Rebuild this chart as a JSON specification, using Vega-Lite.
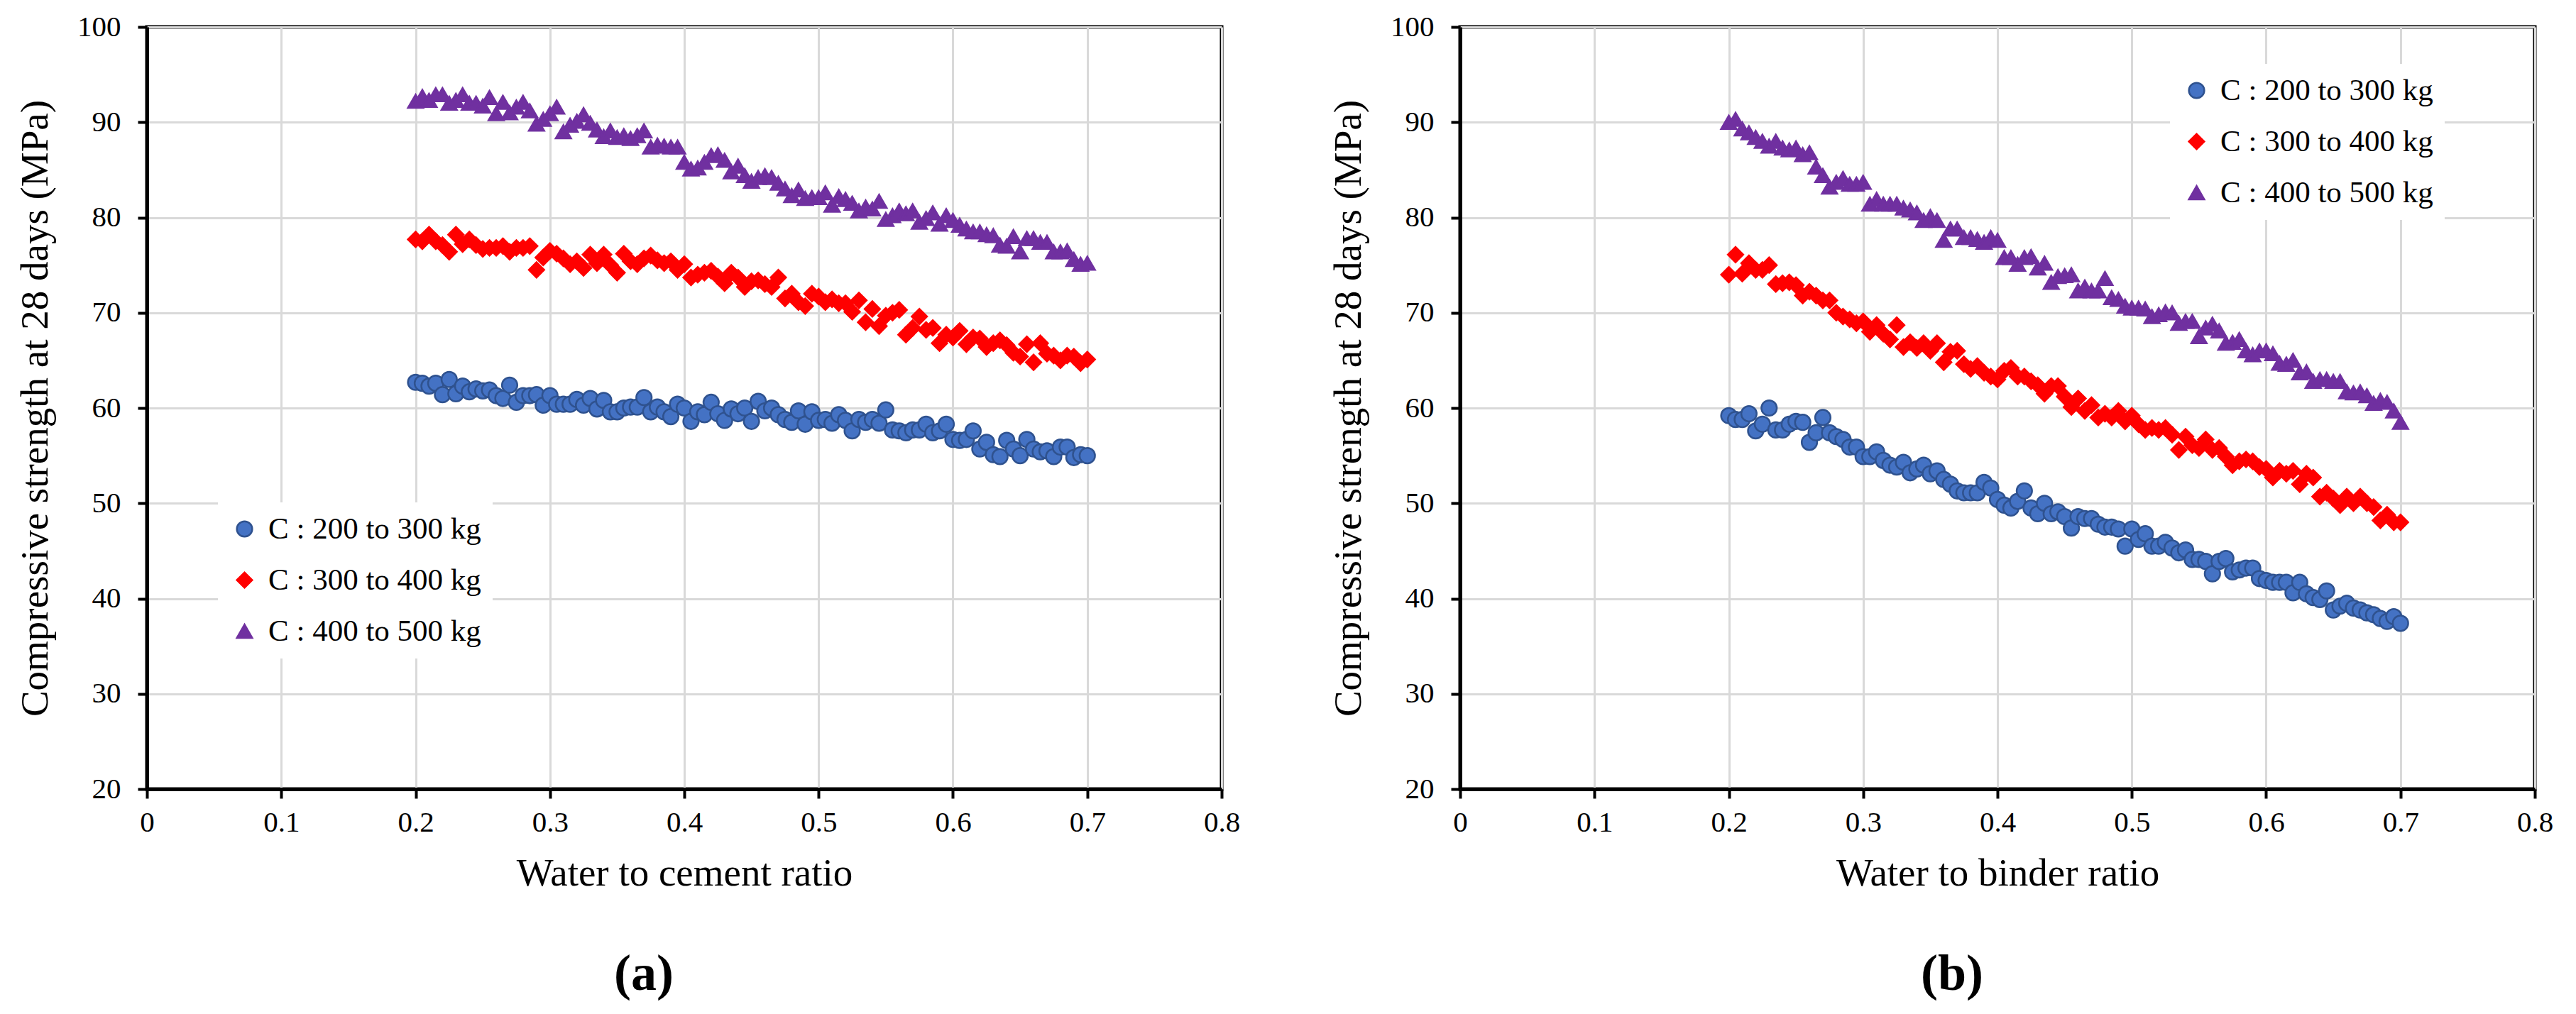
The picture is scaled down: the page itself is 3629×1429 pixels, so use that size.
{
  "$schema": "https://vega.github.io/schema/vega-lite/v6.json",
  "description": "Compressive strength at 28 days against water to cement / water to binder ratio",
  "background": "white",
  "autosize": {"type": "pad"},
  "padding": {"left": 20, "top": 14, "right": 20, "bottom": 20},
  "spacing": 336,
  "bounds": "flush",
  "datasets": {
    "wc": [
      {"ratio":0.2,"strength":62.7,"cement":"C : 200 to 300 kg"},{"ratio":0.205,"strength":62.6,"cement":"C : 200 to 300 kg"},{"ratio":0.21,"strength":62.3,"cement":"C : 200 to 300 kg"},{"ratio":0.215,"strength":62.6,"cement":"C : 200 to 300 kg"},{"ratio":0.22,"strength":61.4,"cement":"C : 200 to 300 kg"},{"ratio":0.225,"strength":63.0,"cement":"C : 200 to 300 kg"},{"ratio":0.23,"strength":61.5,"cement":"C : 200 to 300 kg"},{"ratio":0.235,"strength":62.3,"cement":"C : 200 to 300 kg"},{"ratio":0.24,"strength":61.7,"cement":"C : 200 to 300 kg"},{"ratio":0.245,"strength":62.0,"cement":"C : 200 to 300 kg"},
      {"ratio":0.25,"strength":61.8,"cement":"C : 200 to 300 kg"},{"ratio":0.255,"strength":61.9,"cement":"C : 200 to 300 kg"},{"ratio":0.26,"strength":61.3,"cement":"C : 200 to 300 kg"},{"ratio":0.265,"strength":61.0,"cement":"C : 200 to 300 kg"},{"ratio":0.27,"strength":62.4,"cement":"C : 200 to 300 kg"},{"ratio":0.275,"strength":60.6,"cement":"C : 200 to 300 kg"},{"ratio":0.28,"strength":61.3,"cement":"C : 200 to 300 kg"},{"ratio":0.285,"strength":61.3,"cement":"C : 200 to 300 kg"},{"ratio":0.29,"strength":61.4,"cement":"C : 200 to 300 kg"},{"ratio":0.295,"strength":60.3,"cement":"C : 200 to 300 kg"},
      {"ratio":0.3,"strength":61.3,"cement":"C : 200 to 300 kg"},{"ratio":0.305,"strength":60.4,"cement":"C : 200 to 300 kg"},{"ratio":0.31,"strength":60.4,"cement":"C : 200 to 300 kg"},{"ratio":0.315,"strength":60.4,"cement":"C : 200 to 300 kg"},{"ratio":0.32,"strength":60.9,"cement":"C : 200 to 300 kg"},{"ratio":0.325,"strength":60.3,"cement":"C : 200 to 300 kg"},{"ratio":0.33,"strength":61.0,"cement":"C : 200 to 300 kg"},{"ratio":0.335,"strength":59.9,"cement":"C : 200 to 300 kg"},{"ratio":0.34,"strength":60.8,"cement":"C : 200 to 300 kg"},{"ratio":0.345,"strength":59.6,"cement":"C : 200 to 300 kg"},
      {"ratio":0.35,"strength":59.6,"cement":"C : 200 to 300 kg"},{"ratio":0.355,"strength":60.0,"cement":"C : 200 to 300 kg"},{"ratio":0.36,"strength":60.1,"cement":"C : 200 to 300 kg"},{"ratio":0.365,"strength":60.1,"cement":"C : 200 to 300 kg"},{"ratio":0.37,"strength":61.1,"cement":"C : 200 to 300 kg"},{"ratio":0.375,"strength":59.6,"cement":"C : 200 to 300 kg"},{"ratio":0.38,"strength":60.1,"cement":"C : 200 to 300 kg"},{"ratio":0.385,"strength":59.6,"cement":"C : 200 to 300 kg"},{"ratio":0.39,"strength":59.1,"cement":"C : 200 to 300 kg"},{"ratio":0.395,"strength":60.4,"cement":"C : 200 to 300 kg"},
      {"ratio":0.4,"strength":60.0,"cement":"C : 200 to 300 kg"},{"ratio":0.405,"strength":58.6,"cement":"C : 200 to 300 kg"},{"ratio":0.41,"strength":59.6,"cement":"C : 200 to 300 kg"},{"ratio":0.415,"strength":59.3,"cement":"C : 200 to 300 kg"},{"ratio":0.42,"strength":60.6,"cement":"C : 200 to 300 kg"},{"ratio":0.425,"strength":59.4,"cement":"C : 200 to 300 kg"},{"ratio":0.43,"strength":58.7,"cement":"C : 200 to 300 kg"},{"ratio":0.435,"strength":59.9,"cement":"C : 200 to 300 kg"},{"ratio":0.44,"strength":59.4,"cement":"C : 200 to 300 kg"},{"ratio":0.445,"strength":60.0,"cement":"C : 200 to 300 kg"},
      {"ratio":0.45,"strength":58.6,"cement":"C : 200 to 300 kg"},{"ratio":0.455,"strength":60.7,"cement":"C : 200 to 300 kg"},{"ratio":0.46,"strength":59.7,"cement":"C : 200 to 300 kg"},{"ratio":0.465,"strength":60.0,"cement":"C : 200 to 300 kg"},{"ratio":0.47,"strength":59.3,"cement":"C : 200 to 300 kg"},{"ratio":0.475,"strength":58.8,"cement":"C : 200 to 300 kg"},{"ratio":0.48,"strength":58.5,"cement":"C : 200 to 300 kg"},{"ratio":0.485,"strength":59.7,"cement":"C : 200 to 300 kg"},{"ratio":0.49,"strength":58.3,"cement":"C : 200 to 300 kg"},{"ratio":0.495,"strength":59.6,"cement":"C : 200 to 300 kg"},
      {"ratio":0.5,"strength":58.7,"cement":"C : 200 to 300 kg"},{"ratio":0.505,"strength":58.8,"cement":"C : 200 to 300 kg"},{"ratio":0.51,"strength":58.4,"cement":"C : 200 to 300 kg"},{"ratio":0.515,"strength":59.3,"cement":"C : 200 to 300 kg"},{"ratio":0.52,"strength":58.7,"cement":"C : 200 to 300 kg"},{"ratio":0.525,"strength":57.6,"cement":"C : 200 to 300 kg"},{"ratio":0.53,"strength":58.8,"cement":"C : 200 to 300 kg"},{"ratio":0.535,"strength":58.5,"cement":"C : 200 to 300 kg"},{"ratio":0.54,"strength":58.8,"cement":"C : 200 to 300 kg"},{"ratio":0.545,"strength":58.4,"cement":"C : 200 to 300 kg"},
      {"ratio":0.55,"strength":59.8,"cement":"C : 200 to 300 kg"},{"ratio":0.555,"strength":57.7,"cement":"C : 200 to 300 kg"},{"ratio":0.56,"strength":57.6,"cement":"C : 200 to 300 kg"},{"ratio":0.565,"strength":57.4,"cement":"C : 200 to 300 kg"},{"ratio":0.57,"strength":57.7,"cement":"C : 200 to 300 kg"},{"ratio":0.575,"strength":57.7,"cement":"C : 200 to 300 kg"},{"ratio":0.58,"strength":58.3,"cement":"C : 200 to 300 kg"},{"ratio":0.585,"strength":57.4,"cement":"C : 200 to 300 kg"},{"ratio":0.59,"strength":57.6,"cement":"C : 200 to 300 kg"},{"ratio":0.595,"strength":58.3,"cement":"C : 200 to 300 kg"},
      {"ratio":0.6,"strength":56.7,"cement":"C : 200 to 300 kg"},{"ratio":0.605,"strength":56.6,"cement":"C : 200 to 300 kg"},{"ratio":0.61,"strength":56.7,"cement":"C : 200 to 300 kg"},{"ratio":0.615,"strength":57.6,"cement":"C : 200 to 300 kg"},{"ratio":0.62,"strength":55.7,"cement":"C : 200 to 300 kg"},{"ratio":0.625,"strength":56.4,"cement":"C : 200 to 300 kg"},{"ratio":0.63,"strength":55.1,"cement":"C : 200 to 300 kg"},{"ratio":0.635,"strength":54.9,"cement":"C : 200 to 300 kg"},{"ratio":0.64,"strength":56.6,"cement":"C : 200 to 300 kg"},{"ratio":0.645,"strength":55.7,"cement":"C : 200 to 300 kg"},
      {"ratio":0.65,"strength":55.0,"cement":"C : 200 to 300 kg"},{"ratio":0.655,"strength":56.7,"cement":"C : 200 to 300 kg"},{"ratio":0.66,"strength":55.7,"cement":"C : 200 to 300 kg"},{"ratio":0.665,"strength":55.4,"cement":"C : 200 to 300 kg"},{"ratio":0.67,"strength":55.5,"cement":"C : 200 to 300 kg"},{"ratio":0.675,"strength":54.9,"cement":"C : 200 to 300 kg"},{"ratio":0.68,"strength":55.9,"cement":"C : 200 to 300 kg"},{"ratio":0.685,"strength":55.9,"cement":"C : 200 to 300 kg"},{"ratio":0.69,"strength":54.8,"cement":"C : 200 to 300 kg"},{"ratio":0.695,"strength":55.1,"cement":"C : 200 to 300 kg"},
      {"ratio":0.7,"strength":55.0,"cement":"C : 200 to 300 kg"},

      {"ratio":0.2,"strength":77.7,"cement":"C : 300 to 400 kg"},{"ratio":0.205,"strength":77.5,"cement":"C : 300 to 400 kg"},{"ratio":0.21,"strength":78.2,"cement":"C : 300 to 400 kg"},{"ratio":0.215,"strength":77.5,"cement":"C : 300 to 400 kg"},{"ratio":0.22,"strength":77.1,"cement":"C : 300 to 400 kg"},{"ratio":0.225,"strength":76.4,"cement":"C : 300 to 400 kg"},{"ratio":0.23,"strength":78.2,"cement":"C : 300 to 400 kg"},{"ratio":0.235,"strength":77.2,"cement":"C : 300 to 400 kg"},{"ratio":0.24,"strength":77.7,"cement":"C : 300 to 400 kg"},{"ratio":0.245,"strength":77.1,"cement":"C : 300 to 400 kg"},
      {"ratio":0.25,"strength":76.7,"cement":"C : 300 to 400 kg"},{"ratio":0.255,"strength":76.8,"cement":"C : 300 to 400 kg"},{"ratio":0.26,"strength":76.8,"cement":"C : 300 to 400 kg"},{"ratio":0.265,"strength":77.0,"cement":"C : 300 to 400 kg"},{"ratio":0.27,"strength":76.4,"cement":"C : 300 to 400 kg"},{"ratio":0.275,"strength":76.8,"cement":"C : 300 to 400 kg"},{"ratio":0.28,"strength":76.8,"cement":"C : 300 to 400 kg"},{"ratio":0.285,"strength":77.0,"cement":"C : 300 to 400 kg"},{"ratio":0.29,"strength":74.5,"cement":"C : 300 to 400 kg"},{"ratio":0.295,"strength":75.8,"cement":"C : 300 to 400 kg"},
      {"ratio":0.3,"strength":76.5,"cement":"C : 300 to 400 kg"},{"ratio":0.305,"strength":76.2,"cement":"C : 300 to 400 kg"},{"ratio":0.31,"strength":75.7,"cement":"C : 300 to 400 kg"},{"ratio":0.315,"strength":75.1,"cement":"C : 300 to 400 kg"},{"ratio":0.32,"strength":75.4,"cement":"C : 300 to 400 kg"},{"ratio":0.325,"strength":74.7,"cement":"C : 300 to 400 kg"},{"ratio":0.33,"strength":76.1,"cement":"C : 300 to 400 kg"},{"ratio":0.335,"strength":75.2,"cement":"C : 300 to 400 kg"},{"ratio":0.34,"strength":76.1,"cement":"C : 300 to 400 kg"},{"ratio":0.345,"strength":75.0,"cement":"C : 300 to 400 kg"},
      {"ratio":0.35,"strength":74.2,"cement":"C : 300 to 400 kg"},{"ratio":0.355,"strength":76.2,"cement":"C : 300 to 400 kg"},{"ratio":0.36,"strength":75.4,"cement":"C : 300 to 400 kg"},{"ratio":0.365,"strength":75.1,"cement":"C : 300 to 400 kg"},{"ratio":0.37,"strength":75.7,"cement":"C : 300 to 400 kg"},{"ratio":0.375,"strength":76.0,"cement":"C : 300 to 400 kg"},{"ratio":0.38,"strength":75.5,"cement":"C : 300 to 400 kg"},{"ratio":0.385,"strength":75.2,"cement":"C : 300 to 400 kg"},{"ratio":0.39,"strength":75.4,"cement":"C : 300 to 400 kg"},{"ratio":0.395,"strength":74.5,"cement":"C : 300 to 400 kg"},
      {"ratio":0.4,"strength":75.1,"cement":"C : 300 to 400 kg"},{"ratio":0.405,"strength":73.7,"cement":"C : 300 to 400 kg"},{"ratio":0.41,"strength":74.0,"cement":"C : 300 to 400 kg"},{"ratio":0.415,"strength":74.2,"cement":"C : 300 to 400 kg"},{"ratio":0.42,"strength":74.4,"cement":"C : 300 to 400 kg"},{"ratio":0.425,"strength":73.8,"cement":"C : 300 to 400 kg"},{"ratio":0.43,"strength":73.1,"cement":"C : 300 to 400 kg"},{"ratio":0.435,"strength":74.2,"cement":"C : 300 to 400 kg"},{"ratio":0.44,"strength":73.7,"cement":"C : 300 to 400 kg"},{"ratio":0.445,"strength":72.7,"cement":"C : 300 to 400 kg"},
      {"ratio":0.45,"strength":73.3,"cement":"C : 300 to 400 kg"},{"ratio":0.455,"strength":73.4,"cement":"C : 300 to 400 kg"},{"ratio":0.46,"strength":73.0,"cement":"C : 300 to 400 kg"},{"ratio":0.465,"strength":72.7,"cement":"C : 300 to 400 kg"},{"ratio":0.47,"strength":73.7,"cement":"C : 300 to 400 kg"},{"ratio":0.475,"strength":71.5,"cement":"C : 300 to 400 kg"},{"ratio":0.48,"strength":72.0,"cement":"C : 300 to 400 kg"},{"ratio":0.485,"strength":71.1,"cement":"C : 300 to 400 kg"},{"ratio":0.49,"strength":70.7,"cement":"C : 300 to 400 kg"},{"ratio":0.495,"strength":72.0,"cement":"C : 300 to 400 kg"},
      {"ratio":0.5,"strength":71.7,"cement":"C : 300 to 400 kg"},{"ratio":0.505,"strength":71.1,"cement":"C : 300 to 400 kg"},{"ratio":0.51,"strength":71.4,"cement":"C : 300 to 400 kg"},{"ratio":0.515,"strength":71.0,"cement":"C : 300 to 400 kg"},{"ratio":0.52,"strength":71.0,"cement":"C : 300 to 400 kg"},{"ratio":0.525,"strength":70.1,"cement":"C : 300 to 400 kg"},{"ratio":0.53,"strength":71.3,"cement":"C : 300 to 400 kg"},{"ratio":0.535,"strength":69.0,"cement":"C : 300 to 400 kg"},{"ratio":0.54,"strength":70.4,"cement":"C : 300 to 400 kg"},{"ratio":0.545,"strength":68.6,"cement":"C : 300 to 400 kg"},
      {"ratio":0.55,"strength":69.7,"cement":"C : 300 to 400 kg"},{"ratio":0.555,"strength":70.0,"cement":"C : 300 to 400 kg"},{"ratio":0.56,"strength":70.3,"cement":"C : 300 to 400 kg"},{"ratio":0.565,"strength":67.7,"cement":"C : 300 to 400 kg"},{"ratio":0.57,"strength":68.4,"cement":"C : 300 to 400 kg"},{"ratio":0.575,"strength":69.6,"cement":"C : 300 to 400 kg"},{"ratio":0.58,"strength":68.2,"cement":"C : 300 to 400 kg"},{"ratio":0.585,"strength":68.4,"cement":"C : 300 to 400 kg"},{"ratio":0.59,"strength":66.8,"cement":"C : 300 to 400 kg"},{"ratio":0.595,"strength":67.7,"cement":"C : 300 to 400 kg"},
      {"ratio":0.6,"strength":67.4,"cement":"C : 300 to 400 kg"},{"ratio":0.605,"strength":68.1,"cement":"C : 300 to 400 kg"},{"ratio":0.61,"strength":66.7,"cement":"C : 300 to 400 kg"},{"ratio":0.615,"strength":67.4,"cement":"C : 300 to 400 kg"},{"ratio":0.62,"strength":67.3,"cement":"C : 300 to 400 kg"},{"ratio":0.625,"strength":66.4,"cement":"C : 300 to 400 kg"},{"ratio":0.63,"strength":66.8,"cement":"C : 300 to 400 kg"},{"ratio":0.635,"strength":67.1,"cement":"C : 300 to 400 kg"},{"ratio":0.64,"strength":66.6,"cement":"C : 300 to 400 kg"},{"ratio":0.645,"strength":65.8,"cement":"C : 300 to 400 kg"},
      {"ratio":0.65,"strength":65.4,"cement":"C : 300 to 400 kg"},{"ratio":0.655,"strength":66.7,"cement":"C : 300 to 400 kg"},{"ratio":0.66,"strength":64.8,"cement":"C : 300 to 400 kg"},{"ratio":0.665,"strength":66.8,"cement":"C : 300 to 400 kg"},{"ratio":0.67,"strength":65.7,"cement":"C : 300 to 400 kg"},{"ratio":0.675,"strength":65.5,"cement":"C : 300 to 400 kg"},{"ratio":0.68,"strength":65.0,"cement":"C : 300 to 400 kg"},{"ratio":0.685,"strength":65.5,"cement":"C : 300 to 400 kg"},{"ratio":0.69,"strength":65.4,"cement":"C : 300 to 400 kg"},{"ratio":0.695,"strength":64.7,"cement":"C : 300 to 400 kg"},
      {"ratio":0.7,"strength":65.1,"cement":"C : 300 to 400 kg"},

      {"ratio":0.2,"strength":92.2,"cement":"C : 400 to 500 kg"},{"ratio":0.205,"strength":92.7,"cement":"C : 400 to 500 kg"},{"ratio":0.21,"strength":92.3,"cement":"C : 400 to 500 kg"},{"ratio":0.215,"strength":92.9,"cement":"C : 400 to 500 kg"},{"ratio":0.22,"strength":92.9,"cement":"C : 400 to 500 kg"},{"ratio":0.225,"strength":92.0,"cement":"C : 400 to 500 kg"},{"ratio":0.23,"strength":92.3,"cement":"C : 400 to 500 kg"},{"ratio":0.235,"strength":92.9,"cement":"C : 400 to 500 kg"},{"ratio":0.24,"strength":92.0,"cement":"C : 400 to 500 kg"},{"ratio":0.245,"strength":92.0,"cement":"C : 400 to 500 kg"},
      {"ratio":0.25,"strength":91.7,"cement":"C : 400 to 500 kg"},{"ratio":0.255,"strength":92.6,"cement":"C : 400 to 500 kg"},{"ratio":0.26,"strength":90.9,"cement":"C : 400 to 500 kg"},{"ratio":0.265,"strength":92.1,"cement":"C : 400 to 500 kg"},{"ratio":0.27,"strength":91.0,"cement":"C : 400 to 500 kg"},{"ratio":0.275,"strength":91.6,"cement":"C : 400 to 500 kg"},{"ratio":0.28,"strength":92.1,"cement":"C : 400 to 500 kg"},{"ratio":0.285,"strength":91.2,"cement":"C : 400 to 500 kg"},{"ratio":0.29,"strength":89.8,"cement":"C : 400 to 500 kg"},{"ratio":0.295,"strength":90.3,"cement":"C : 400 to 500 kg"},
      {"ratio":0.3,"strength":90.9,"cement":"C : 400 to 500 kg"},{"ratio":0.305,"strength":91.6,"cement":"C : 400 to 500 kg"},{"ratio":0.31,"strength":89.0,"cement":"C : 400 to 500 kg"},{"ratio":0.315,"strength":89.7,"cement":"C : 400 to 500 kg"},{"ratio":0.32,"strength":90.1,"cement":"C : 400 to 500 kg"},{"ratio":0.325,"strength":90.8,"cement":"C : 400 to 500 kg"},{"ratio":0.33,"strength":89.9,"cement":"C : 400 to 500 kg"},{"ratio":0.335,"strength":89.2,"cement":"C : 400 to 500 kg"},{"ratio":0.34,"strength":88.5,"cement":"C : 400 to 500 kg"},{"ratio":0.345,"strength":89.1,"cement":"C : 400 to 500 kg"},
      {"ratio":0.35,"strength":88.4,"cement":"C : 400 to 500 kg"},{"ratio":0.355,"strength":88.6,"cement":"C : 400 to 500 kg"},{"ratio":0.36,"strength":88.3,"cement":"C : 400 to 500 kg"},{"ratio":0.365,"strength":88.6,"cement":"C : 400 to 500 kg"},{"ratio":0.37,"strength":89.1,"cement":"C : 400 to 500 kg"},{"ratio":0.375,"strength":87.4,"cement":"C : 400 to 500 kg"},{"ratio":0.38,"strength":87.6,"cement":"C : 400 to 500 kg"},{"ratio":0.385,"strength":87.5,"cement":"C : 400 to 500 kg"},{"ratio":0.39,"strength":87.4,"cement":"C : 400 to 500 kg"},{"ratio":0.395,"strength":87.4,"cement":"C : 400 to 500 kg"},
      {"ratio":0.4,"strength":85.8,"cement":"C : 400 to 500 kg"},{"ratio":0.405,"strength":85.1,"cement":"C : 400 to 500 kg"},{"ratio":0.41,"strength":85.2,"cement":"C : 400 to 500 kg"},{"ratio":0.415,"strength":85.8,"cement":"C : 400 to 500 kg"},{"ratio":0.42,"strength":86.5,"cement":"C : 400 to 500 kg"},{"ratio":0.425,"strength":86.6,"cement":"C : 400 to 500 kg"},{"ratio":0.43,"strength":86.0,"cement":"C : 400 to 500 kg"},{"ratio":0.435,"strength":84.8,"cement":"C : 400 to 500 kg"},{"ratio":0.44,"strength":85.4,"cement":"C : 400 to 500 kg"},{"ratio":0.445,"strength":84.4,"cement":"C : 400 to 500 kg"},
      {"ratio":0.45,"strength":83.8,"cement":"C : 400 to 500 kg"},{"ratio":0.455,"strength":84.2,"cement":"C : 400 to 500 kg"},{"ratio":0.46,"strength":84.4,"cement":"C : 400 to 500 kg"},{"ratio":0.465,"strength":84.2,"cement":"C : 400 to 500 kg"},{"ratio":0.47,"strength":83.6,"cement":"C : 400 to 500 kg"},{"ratio":0.475,"strength":83.0,"cement":"C : 400 to 500 kg"},{"ratio":0.48,"strength":82.3,"cement":"C : 400 to 500 kg"},{"ratio":0.485,"strength":82.9,"cement":"C : 400 to 500 kg"},{"ratio":0.49,"strength":82.0,"cement":"C : 400 to 500 kg"},{"ratio":0.495,"strength":82.1,"cement":"C : 400 to 500 kg"},
      {"ratio":0.5,"strength":82.1,"cement":"C : 400 to 500 kg"},{"ratio":0.505,"strength":82.6,"cement":"C : 400 to 500 kg"},{"ratio":0.51,"strength":81.3,"cement":"C : 400 to 500 kg"},{"ratio":0.515,"strength":82.2,"cement":"C : 400 to 500 kg"},{"ratio":0.52,"strength":81.9,"cement":"C : 400 to 500 kg"},{"ratio":0.525,"strength":81.5,"cement":"C : 400 to 500 kg"},{"ratio":0.53,"strength":80.7,"cement":"C : 400 to 500 kg"},{"ratio":0.535,"strength":81.1,"cement":"C : 400 to 500 kg"},{"ratio":0.54,"strength":80.9,"cement":"C : 400 to 500 kg"},{"ratio":0.545,"strength":81.7,"cement":"C : 400 to 500 kg"},
      {"ratio":0.55,"strength":79.8,"cement":"C : 400 to 500 kg"},{"ratio":0.555,"strength":80.2,"cement":"C : 400 to 500 kg"},{"ratio":0.56,"strength":80.7,"cement":"C : 400 to 500 kg"},{"ratio":0.565,"strength":80.4,"cement":"C : 400 to 500 kg"},{"ratio":0.57,"strength":80.7,"cement":"C : 400 to 500 kg"},{"ratio":0.575,"strength":79.5,"cement":"C : 400 to 500 kg"},{"ratio":0.58,"strength":79.9,"cement":"C : 400 to 500 kg"},{"ratio":0.585,"strength":80.5,"cement":"C : 400 to 500 kg"},{"ratio":0.59,"strength":79.3,"cement":"C : 400 to 500 kg"},{"ratio":0.595,"strength":80.2,"cement":"C : 400 to 500 kg"},
      {"ratio":0.6,"strength":79.7,"cement":"C : 400 to 500 kg"},{"ratio":0.605,"strength":79.2,"cement":"C : 400 to 500 kg"},{"ratio":0.61,"strength":78.8,"cement":"C : 400 to 500 kg"},{"ratio":0.615,"strength":78.5,"cement":"C : 400 to 500 kg"},{"ratio":0.62,"strength":78.5,"cement":"C : 400 to 500 kg"},{"ratio":0.625,"strength":78.2,"cement":"C : 400 to 500 kg"},{"ratio":0.63,"strength":78.1,"cement":"C : 400 to 500 kg"},{"ratio":0.635,"strength":77.1,"cement":"C : 400 to 500 kg"},{"ratio":0.64,"strength":77.0,"cement":"C : 400 to 500 kg"},{"ratio":0.645,"strength":78.0,"cement":"C : 400 to 500 kg"},
      {"ratio":0.65,"strength":76.4,"cement":"C : 400 to 500 kg"},{"ratio":0.655,"strength":77.8,"cement":"C : 400 to 500 kg"},{"ratio":0.66,"strength":77.8,"cement":"C : 400 to 500 kg"},{"ratio":0.665,"strength":77.4,"cement":"C : 400 to 500 kg"},{"ratio":0.67,"strength":77.4,"cement":"C : 400 to 500 kg"},{"ratio":0.675,"strength":76.4,"cement":"C : 400 to 500 kg"},{"ratio":0.68,"strength":76.4,"cement":"C : 400 to 500 kg"},{"ratio":0.685,"strength":76.5,"cement":"C : 400 to 500 kg"},{"ratio":0.69,"strength":75.6,"cement":"C : 400 to 500 kg"},{"ratio":0.695,"strength":75.1,"cement":"C : 400 to 500 kg"},
      {"ratio":0.7,"strength":75.2,"cement":"C : 400 to 500 kg"}
    ],
    "wb": [
      {"ratio":0.2,"strength":59.2,"cement":"C : 200 to 300 kg"},{"ratio":0.205,"strength":58.8,"cement":"C : 200 to 300 kg"},{"ratio":0.21,"strength":58.8,"cement":"C : 200 to 300 kg"},{"ratio":0.215,"strength":59.4,"cement":"C : 200 to 300 kg"},{"ratio":0.22,"strength":57.6,"cement":"C : 200 to 300 kg"},{"ratio":0.225,"strength":58.3,"cement":"C : 200 to 300 kg"},{"ratio":0.23,"strength":60.0,"cement":"C : 200 to 300 kg"},{"ratio":0.235,"strength":57.7,"cement":"C : 200 to 300 kg"},{"ratio":0.24,"strength":57.7,"cement":"C : 200 to 300 kg"},{"ratio":0.245,"strength":58.3,"cement":"C : 200 to 300 kg"},
      {"ratio":0.25,"strength":58.6,"cement":"C : 200 to 300 kg"},{"ratio":0.255,"strength":58.5,"cement":"C : 200 to 300 kg"},{"ratio":0.26,"strength":56.4,"cement":"C : 200 to 300 kg"},{"ratio":0.265,"strength":57.4,"cement":"C : 200 to 300 kg"},{"ratio":0.27,"strength":59.0,"cement":"C : 200 to 300 kg"},{"ratio":0.275,"strength":57.4,"cement":"C : 200 to 300 kg"},{"ratio":0.28,"strength":57.0,"cement":"C : 200 to 300 kg"},{"ratio":0.285,"strength":56.7,"cement":"C : 200 to 300 kg"},{"ratio":0.29,"strength":55.9,"cement":"C : 200 to 300 kg"},{"ratio":0.295,"strength":55.9,"cement":"C : 200 to 300 kg"},
      {"ratio":0.3,"strength":54.9,"cement":"C : 200 to 300 kg"},{"ratio":0.305,"strength":54.9,"cement":"C : 200 to 300 kg"},{"ratio":0.31,"strength":55.4,"cement":"C : 200 to 300 kg"},{"ratio":0.315,"strength":54.5,"cement":"C : 200 to 300 kg"},{"ratio":0.32,"strength":54.0,"cement":"C : 200 to 300 kg"},{"ratio":0.325,"strength":53.8,"cement":"C : 200 to 300 kg"},{"ratio":0.33,"strength":54.3,"cement":"C : 200 to 300 kg"},{"ratio":0.335,"strength":53.2,"cement":"C : 200 to 300 kg"},{"ratio":0.34,"strength":53.6,"cement":"C : 200 to 300 kg"},{"ratio":0.345,"strength":54.0,"cement":"C : 200 to 300 kg"},
      {"ratio":0.35,"strength":53.1,"cement":"C : 200 to 300 kg"},{"ratio":0.355,"strength":53.4,"cement":"C : 200 to 300 kg"},{"ratio":0.36,"strength":52.5,"cement":"C : 200 to 300 kg"},{"ratio":0.365,"strength":52.0,"cement":"C : 200 to 300 kg"},{"ratio":0.37,"strength":51.3,"cement":"C : 200 to 300 kg"},{"ratio":0.375,"strength":51.1,"cement":"C : 200 to 300 kg"},{"ratio":0.38,"strength":51.1,"cement":"C : 200 to 300 kg"},{"ratio":0.385,"strength":51.1,"cement":"C : 200 to 300 kg"},{"ratio":0.39,"strength":52.2,"cement":"C : 200 to 300 kg"},{"ratio":0.395,"strength":51.6,"cement":"C : 200 to 300 kg"},
      {"ratio":0.4,"strength":50.4,"cement":"C : 200 to 300 kg"},{"ratio":0.405,"strength":49.8,"cement":"C : 200 to 300 kg"},{"ratio":0.41,"strength":49.5,"cement":"C : 200 to 300 kg"},{"ratio":0.415,"strength":50.2,"cement":"C : 200 to 300 kg"},{"ratio":0.42,"strength":51.3,"cement":"C : 200 to 300 kg"},{"ratio":0.425,"strength":49.5,"cement":"C : 200 to 300 kg"},{"ratio":0.43,"strength":48.9,"cement":"C : 200 to 300 kg"},{"ratio":0.435,"strength":50.0,"cement":"C : 200 to 300 kg"},{"ratio":0.44,"strength":48.9,"cement":"C : 200 to 300 kg"},{"ratio":0.445,"strength":49.1,"cement":"C : 200 to 300 kg"},
      {"ratio":0.45,"strength":48.6,"cement":"C : 200 to 300 kg"},{"ratio":0.455,"strength":47.4,"cement":"C : 200 to 300 kg"},{"ratio":0.46,"strength":48.6,"cement":"C : 200 to 300 kg"},{"ratio":0.465,"strength":48.4,"cement":"C : 200 to 300 kg"},{"ratio":0.47,"strength":48.4,"cement":"C : 200 to 300 kg"},{"ratio":0.475,"strength":47.8,"cement":"C : 200 to 300 kg"},{"ratio":0.48,"strength":47.5,"cement":"C : 200 to 300 kg"},{"ratio":0.485,"strength":47.5,"cement":"C : 200 to 300 kg"},{"ratio":0.49,"strength":47.3,"cement":"C : 200 to 300 kg"},{"ratio":0.495,"strength":45.5,"cement":"C : 200 to 300 kg"},
      {"ratio":0.5,"strength":47.3,"cement":"C : 200 to 300 kg"},{"ratio":0.505,"strength":46.2,"cement":"C : 200 to 300 kg"},{"ratio":0.51,"strength":46.8,"cement":"C : 200 to 300 kg"},{"ratio":0.515,"strength":45.5,"cement":"C : 200 to 300 kg"},{"ratio":0.52,"strength":45.5,"cement":"C : 200 to 300 kg"},{"ratio":0.525,"strength":45.9,"cement":"C : 200 to 300 kg"},{"ratio":0.53,"strength":45.3,"cement":"C : 200 to 300 kg"},{"ratio":0.535,"strength":44.8,"cement":"C : 200 to 300 kg"},{"ratio":0.54,"strength":45.1,"cement":"C : 200 to 300 kg"},{"ratio":0.545,"strength":44.1,"cement":"C : 200 to 300 kg"},
      {"ratio":0.55,"strength":44.1,"cement":"C : 200 to 300 kg"},{"ratio":0.555,"strength":43.9,"cement":"C : 200 to 300 kg"},{"ratio":0.56,"strength":42.6,"cement":"C : 200 to 300 kg"},{"ratio":0.565,"strength":43.9,"cement":"C : 200 to 300 kg"},{"ratio":0.57,"strength":44.2,"cement":"C : 200 to 300 kg"},{"ratio":0.575,"strength":42.8,"cement":"C : 200 to 300 kg"},{"ratio":0.58,"strength":43.0,"cement":"C : 200 to 300 kg"},{"ratio":0.585,"strength":43.2,"cement":"C : 200 to 300 kg"},{"ratio":0.59,"strength":43.2,"cement":"C : 200 to 300 kg"},{"ratio":0.595,"strength":42.1,"cement":"C : 200 to 300 kg"},
      {"ratio":0.6,"strength":41.9,"cement":"C : 200 to 300 kg"},{"ratio":0.605,"strength":41.7,"cement":"C : 200 to 300 kg"},{"ratio":0.61,"strength":41.7,"cement":"C : 200 to 300 kg"},{"ratio":0.615,"strength":41.7,"cement":"C : 200 to 300 kg"},{"ratio":0.62,"strength":40.6,"cement":"C : 200 to 300 kg"},{"ratio":0.625,"strength":41.7,"cement":"C : 200 to 300 kg"},{"ratio":0.63,"strength":40.5,"cement":"C : 200 to 300 kg"},{"ratio":0.635,"strength":40.1,"cement":"C : 200 to 300 kg"},{"ratio":0.64,"strength":39.9,"cement":"C : 200 to 300 kg"},{"ratio":0.645,"strength":40.8,"cement":"C : 200 to 300 kg"},
      {"ratio":0.65,"strength":38.8,"cement":"C : 200 to 300 kg"},{"ratio":0.655,"strength":39.2,"cement":"C : 200 to 300 kg"},{"ratio":0.66,"strength":39.5,"cement":"C : 200 to 300 kg"},{"ratio":0.665,"strength":39.0,"cement":"C : 200 to 300 kg"},{"ratio":0.67,"strength":38.8,"cement":"C : 200 to 300 kg"},{"ratio":0.675,"strength":38.5,"cement":"C : 200 to 300 kg"},{"ratio":0.68,"strength":38.3,"cement":"C : 200 to 300 kg"},{"ratio":0.685,"strength":37.9,"cement":"C : 200 to 300 kg"},{"ratio":0.69,"strength":37.6,"cement":"C : 200 to 300 kg"},{"ratio":0.695,"strength":38.1,"cement":"C : 200 to 300 kg"},
      {"ratio":0.7,"strength":37.4,"cement":"C : 200 to 300 kg"},

      {"ratio":0.2,"strength":74.0,"cement":"C : 300 to 400 kg"},{"ratio":0.205,"strength":76.1,"cement":"C : 300 to 400 kg"},{"ratio":0.21,"strength":74.1,"cement":"C : 300 to 400 kg"},{"ratio":0.215,"strength":75.2,"cement":"C : 300 to 400 kg"},{"ratio":0.22,"strength":74.5,"cement":"C : 300 to 400 kg"},{"ratio":0.225,"strength":74.5,"cement":"C : 300 to 400 kg"},{"ratio":0.23,"strength":75.0,"cement":"C : 300 to 400 kg"},{"ratio":0.235,"strength":73.0,"cement":"C : 300 to 400 kg"},{"ratio":0.24,"strength":73.1,"cement":"C : 300 to 400 kg"},{"ratio":0.245,"strength":73.2,"cement":"C : 300 to 400 kg"},
      {"ratio":0.25,"strength":72.9,"cement":"C : 300 to 400 kg"},{"ratio":0.255,"strength":71.8,"cement":"C : 300 to 400 kg"},{"ratio":0.26,"strength":72.2,"cement":"C : 300 to 400 kg"},{"ratio":0.265,"strength":71.8,"cement":"C : 300 to 400 kg"},{"ratio":0.27,"strength":71.3,"cement":"C : 300 to 400 kg"},{"ratio":0.275,"strength":71.3,"cement":"C : 300 to 400 kg"},{"ratio":0.28,"strength":70.0,"cement":"C : 300 to 400 kg"},{"ratio":0.285,"strength":69.6,"cement":"C : 300 to 400 kg"},{"ratio":0.29,"strength":69.3,"cement":"C : 300 to 400 kg"},{"ratio":0.295,"strength":68.9,"cement":"C : 300 to 400 kg"},
      {"ratio":0.3,"strength":69.1,"cement":"C : 300 to 400 kg"},{"ratio":0.305,"strength":68.0,"cement":"C : 300 to 400 kg"},{"ratio":0.31,"strength":68.7,"cement":"C : 300 to 400 kg"},{"ratio":0.315,"strength":67.8,"cement":"C : 300 to 400 kg"},{"ratio":0.32,"strength":67.2,"cement":"C : 300 to 400 kg"},{"ratio":0.325,"strength":68.7,"cement":"C : 300 to 400 kg"},{"ratio":0.33,"strength":66.4,"cement":"C : 300 to 400 kg"},{"ratio":0.335,"strength":66.9,"cement":"C : 300 to 400 kg"},{"ratio":0.34,"strength":66.3,"cement":"C : 300 to 400 kg"},{"ratio":0.345,"strength":66.8,"cement":"C : 300 to 400 kg"},
      {"ratio":0.35,"strength":66.0,"cement":"C : 300 to 400 kg"},{"ratio":0.355,"strength":66.8,"cement":"C : 300 to 400 kg"},{"ratio":0.36,"strength":64.8,"cement":"C : 300 to 400 kg"},{"ratio":0.365,"strength":65.9,"cement":"C : 300 to 400 kg"},{"ratio":0.37,"strength":66.0,"cement":"C : 300 to 400 kg"},{"ratio":0.375,"strength":64.6,"cement":"C : 300 to 400 kg"},{"ratio":0.38,"strength":64.1,"cement":"C : 300 to 400 kg"},{"ratio":0.385,"strength":64.4,"cement":"C : 300 to 400 kg"},{"ratio":0.39,"strength":63.7,"cement":"C : 300 to 400 kg"},{"ratio":0.395,"strength":63.3,"cement":"C : 300 to 400 kg"},
      {"ratio":0.4,"strength":63.0,"cement":"C : 300 to 400 kg"},{"ratio":0.405,"strength":63.9,"cement":"C : 300 to 400 kg"},{"ratio":0.41,"strength":64.2,"cement":"C : 300 to 400 kg"},{"ratio":0.415,"strength":63.3,"cement":"C : 300 to 400 kg"},{"ratio":0.42,"strength":63.3,"cement":"C : 300 to 400 kg"},{"ratio":0.425,"strength":62.8,"cement":"C : 300 to 400 kg"},{"ratio":0.43,"strength":62.4,"cement":"C : 300 to 400 kg"},{"ratio":0.435,"strength":61.5,"cement":"C : 300 to 400 kg"},{"ratio":0.44,"strength":62.3,"cement":"C : 300 to 400 kg"},{"ratio":0.445,"strength":62.3,"cement":"C : 300 to 400 kg"},
      {"ratio":0.45,"strength":61.2,"cement":"C : 300 to 400 kg"},{"ratio":0.455,"strength":60.1,"cement":"C : 300 to 400 kg"},{"ratio":0.46,"strength":61.0,"cement":"C : 300 to 400 kg"},{"ratio":0.465,"strength":59.7,"cement":"C : 300 to 400 kg"},{"ratio":0.47,"strength":60.3,"cement":"C : 300 to 400 kg"},{"ratio":0.475,"strength":59.0,"cement":"C : 300 to 400 kg"},{"ratio":0.48,"strength":59.4,"cement":"C : 300 to 400 kg"},{"ratio":0.485,"strength":59.0,"cement":"C : 300 to 400 kg"},{"ratio":0.49,"strength":59.7,"cement":"C : 300 to 400 kg"},{"ratio":0.495,"strength":58.6,"cement":"C : 300 to 400 kg"},
      {"ratio":0.5,"strength":59.2,"cement":"C : 300 to 400 kg"},{"ratio":0.505,"strength":58.3,"cement":"C : 300 to 400 kg"},{"ratio":0.51,"strength":57.7,"cement":"C : 300 to 400 kg"},{"ratio":0.515,"strength":57.9,"cement":"C : 300 to 400 kg"},{"ratio":0.52,"strength":57.7,"cement":"C : 300 to 400 kg"},{"ratio":0.525,"strength":57.9,"cement":"C : 300 to 400 kg"},{"ratio":0.53,"strength":57.2,"cement":"C : 300 to 400 kg"},{"ratio":0.535,"strength":55.6,"cement":"C : 300 to 400 kg"},{"ratio":0.54,"strength":57.0,"cement":"C : 300 to 400 kg"},{"ratio":0.545,"strength":56.1,"cement":"C : 300 to 400 kg"},
      {"ratio":0.55,"strength":55.8,"cement":"C : 300 to 400 kg"},{"ratio":0.555,"strength":56.7,"cement":"C : 300 to 400 kg"},{"ratio":0.56,"strength":55.6,"cement":"C : 300 to 400 kg"},{"ratio":0.565,"strength":55.8,"cement":"C : 300 to 400 kg"},{"ratio":0.57,"strength":54.9,"cement":"C : 300 to 400 kg"},{"ratio":0.575,"strength":54.0,"cement":"C : 300 to 400 kg"},{"ratio":0.58,"strength":54.4,"cement":"C : 300 to 400 kg"},{"ratio":0.585,"strength":54.6,"cement":"C : 300 to 400 kg"},{"ratio":0.59,"strength":54.4,"cement":"C : 300 to 400 kg"},{"ratio":0.595,"strength":53.8,"cement":"C : 300 to 400 kg"},
      {"ratio":0.6,"strength":53.6,"cement":"C : 300 to 400 kg"},{"ratio":0.605,"strength":52.7,"cement":"C : 300 to 400 kg"},{"ratio":0.61,"strength":53.4,"cement":"C : 300 to 400 kg"},{"ratio":0.615,"strength":53.1,"cement":"C : 300 to 400 kg"},{"ratio":0.62,"strength":53.4,"cement":"C : 300 to 400 kg"},{"ratio":0.625,"strength":52.0,"cement":"C : 300 to 400 kg"},{"ratio":0.63,"strength":53.1,"cement":"C : 300 to 400 kg"},{"ratio":0.635,"strength":52.7,"cement":"C : 300 to 400 kg"},{"ratio":0.64,"strength":50.7,"cement":"C : 300 to 400 kg"},{"ratio":0.645,"strength":51.1,"cement":"C : 300 to 400 kg"},
      {"ratio":0.65,"strength":50.5,"cement":"C : 300 to 400 kg"},{"ratio":0.655,"strength":49.8,"cement":"C : 300 to 400 kg"},{"ratio":0.66,"strength":50.7,"cement":"C : 300 to 400 kg"},{"ratio":0.665,"strength":50.0,"cement":"C : 300 to 400 kg"},{"ratio":0.67,"strength":50.7,"cement":"C : 300 to 400 kg"},{"ratio":0.675,"strength":50.0,"cement":"C : 300 to 400 kg"},{"ratio":0.68,"strength":49.6,"cement":"C : 300 to 400 kg"},{"ratio":0.685,"strength":48.2,"cement":"C : 300 to 400 kg"},{"ratio":0.69,"strength":48.8,"cement":"C : 300 to 400 kg"},{"ratio":0.695,"strength":48.0,"cement":"C : 300 to 400 kg"},
      {"ratio":0.7,"strength":48.0,"cement":"C : 300 to 400 kg"},

      {"ratio":0.2,"strength":90.0,"cement":"C : 400 to 500 kg"},{"ratio":0.205,"strength":90.3,"cement":"C : 400 to 500 kg"},{"ratio":0.21,"strength":89.3,"cement":"C : 400 to 500 kg"},{"ratio":0.215,"strength":88.9,"cement":"C : 400 to 500 kg"},{"ratio":0.22,"strength":88.4,"cement":"C : 400 to 500 kg"},{"ratio":0.225,"strength":88.0,"cement":"C : 400 to 500 kg"},{"ratio":0.23,"strength":87.5,"cement":"C : 400 to 500 kg"},{"ratio":0.235,"strength":88.0,"cement":"C : 400 to 500 kg"},{"ratio":0.24,"strength":87.3,"cement":"C : 400 to 500 kg"},{"ratio":0.245,"strength":87.1,"cement":"C : 400 to 500 kg"},
      {"ratio":0.25,"strength":87.3,"cement":"C : 400 to 500 kg"},{"ratio":0.255,"strength":86.6,"cement":"C : 400 to 500 kg"},{"ratio":0.26,"strength":86.8,"cement":"C : 400 to 500 kg"},{"ratio":0.265,"strength":85.3,"cement":"C : 400 to 500 kg"},{"ratio":0.27,"strength":84.4,"cement":"C : 400 to 500 kg"},{"ratio":0.275,"strength":83.2,"cement":"C : 400 to 500 kg"},{"ratio":0.28,"strength":83.7,"cement":"C : 400 to 500 kg"},{"ratio":0.285,"strength":84.1,"cement":"C : 400 to 500 kg"},{"ratio":0.29,"strength":83.5,"cement":"C : 400 to 500 kg"},{"ratio":0.295,"strength":83.5,"cement":"C : 400 to 500 kg"},
      {"ratio":0.3,"strength":83.7,"cement":"C : 400 to 500 kg"},{"ratio":0.305,"strength":81.4,"cement":"C : 400 to 500 kg"},{"ratio":0.31,"strength":81.9,"cement":"C : 400 to 500 kg"},{"ratio":0.315,"strength":81.4,"cement":"C : 400 to 500 kg"},{"ratio":0.32,"strength":81.4,"cement":"C : 400 to 500 kg"},{"ratio":0.325,"strength":81.4,"cement":"C : 400 to 500 kg"},{"ratio":0.33,"strength":81.0,"cement":"C : 400 to 500 kg"},{"ratio":0.335,"strength":80.8,"cement":"C : 400 to 500 kg"},{"ratio":0.34,"strength":80.5,"cement":"C : 400 to 500 kg"},{"ratio":0.345,"strength":79.7,"cement":"C : 400 to 500 kg"},
      {"ratio":0.35,"strength":80.1,"cement":"C : 400 to 500 kg"},{"ratio":0.355,"strength":79.7,"cement":"C : 400 to 500 kg"},{"ratio":0.36,"strength":77.6,"cement":"C : 400 to 500 kg"},{"ratio":0.365,"strength":78.8,"cement":"C : 400 to 500 kg"},{"ratio":0.37,"strength":78.8,"cement":"C : 400 to 500 kg"},{"ratio":0.375,"strength":77.9,"cement":"C : 400 to 500 kg"},{"ratio":0.38,"strength":77.9,"cement":"C : 400 to 500 kg"},{"ratio":0.385,"strength":77.7,"cement":"C : 400 to 500 kg"},{"ratio":0.39,"strength":77.4,"cement":"C : 400 to 500 kg"},{"ratio":0.395,"strength":77.9,"cement":"C : 400 to 500 kg"},
      {"ratio":0.4,"strength":77.6,"cement":"C : 400 to 500 kg"},{"ratio":0.405,"strength":75.8,"cement":"C : 400 to 500 kg"},{"ratio":0.41,"strength":75.8,"cement":"C : 400 to 500 kg"},{"ratio":0.415,"strength":75.1,"cement":"C : 400 to 500 kg"},{"ratio":0.42,"strength":75.8,"cement":"C : 400 to 500 kg"},{"ratio":0.425,"strength":75.9,"cement":"C : 400 to 500 kg"},{"ratio":0.43,"strength":74.7,"cement":"C : 400 to 500 kg"},{"ratio":0.435,"strength":75.2,"cement":"C : 400 to 500 kg"},{"ratio":0.44,"strength":73.2,"cement":"C : 400 to 500 kg"},{"ratio":0.445,"strength":73.8,"cement":"C : 400 to 500 kg"},
      {"ratio":0.45,"strength":73.9,"cement":"C : 400 to 500 kg"},{"ratio":0.455,"strength":74.0,"cement":"C : 400 to 500 kg"},{"ratio":0.46,"strength":72.3,"cement":"C : 400 to 500 kg"},{"ratio":0.465,"strength":72.7,"cement":"C : 400 to 500 kg"},{"ratio":0.47,"strength":72.3,"cement":"C : 400 to 500 kg"},{"ratio":0.475,"strength":72.3,"cement":"C : 400 to 500 kg"},{"ratio":0.48,"strength":73.6,"cement":"C : 400 to 500 kg"},{"ratio":0.485,"strength":71.6,"cement":"C : 400 to 500 kg"},{"ratio":0.49,"strength":71.4,"cement":"C : 400 to 500 kg"},{"ratio":0.495,"strength":70.7,"cement":"C : 400 to 500 kg"},
      {"ratio":0.5,"strength":70.5,"cement":"C : 400 to 500 kg"},{"ratio":0.505,"strength":70.5,"cement":"C : 400 to 500 kg"},{"ratio":0.51,"strength":70.4,"cement":"C : 400 to 500 kg"},{"ratio":0.515,"strength":69.6,"cement":"C : 400 to 500 kg"},{"ratio":0.52,"strength":69.8,"cement":"C : 400 to 500 kg"},{"ratio":0.525,"strength":70.1,"cement":"C : 400 to 500 kg"},{"ratio":0.53,"strength":70.0,"cement":"C : 400 to 500 kg"},{"ratio":0.535,"strength":68.9,"cement":"C : 400 to 500 kg"},{"ratio":0.54,"strength":69.1,"cement":"C : 400 to 500 kg"},{"ratio":0.545,"strength":69.1,"cement":"C : 400 to 500 kg"},
      {"ratio":0.55,"strength":67.5,"cement":"C : 400 to 500 kg"},{"ratio":0.555,"strength":68.4,"cement":"C : 400 to 500 kg"},{"ratio":0.56,"strength":68.8,"cement":"C : 400 to 500 kg"},{"ratio":0.565,"strength":68.1,"cement":"C : 400 to 500 kg"},{"ratio":0.57,"strength":66.8,"cement":"C : 400 to 500 kg"},{"ratio":0.575,"strength":66.9,"cement":"C : 400 to 500 kg"},{"ratio":0.58,"strength":67.2,"cement":"C : 400 to 500 kg"},{"ratio":0.585,"strength":66.0,"cement":"C : 400 to 500 kg"},{"ratio":0.59,"strength":65.6,"cement":"C : 400 to 500 kg"},{"ratio":0.595,"strength":66.0,"cement":"C : 400 to 500 kg"},
      {"ratio":0.6,"strength":66.0,"cement":"C : 400 to 500 kg"},{"ratio":0.605,"strength":65.7,"cement":"C : 400 to 500 kg"},{"ratio":0.61,"strength":64.7,"cement":"C : 400 to 500 kg"},{"ratio":0.615,"strength":64.6,"cement":"C : 400 to 500 kg"},{"ratio":0.62,"strength":65.0,"cement":"C : 400 to 500 kg"},{"ratio":0.625,"strength":63.7,"cement":"C : 400 to 500 kg"},{"ratio":0.63,"strength":63.8,"cement":"C : 400 to 500 kg"},{"ratio":0.635,"strength":62.8,"cement":"C : 400 to 500 kg"},{"ratio":0.64,"strength":63.0,"cement":"C : 400 to 500 kg"},{"ratio":0.645,"strength":63.0,"cement":"C : 400 to 500 kg"},
      {"ratio":0.65,"strength":62.8,"cement":"C : 400 to 500 kg"},{"ratio":0.655,"strength":62.8,"cement":"C : 400 to 500 kg"},{"ratio":0.66,"strength":61.7,"cement":"C : 400 to 500 kg"},{"ratio":0.665,"strength":61.6,"cement":"C : 400 to 500 kg"},{"ratio":0.67,"strength":61.7,"cement":"C : 400 to 500 kg"},{"ratio":0.675,"strength":61.3,"cement":"C : 400 to 500 kg"},{"ratio":0.68,"strength":60.5,"cement":"C : 400 to 500 kg"},{"ratio":0.685,"strength":60.8,"cement":"C : 400 to 500 kg"},{"ratio":0.69,"strength":60.6,"cement":"C : 400 to 500 kg"},{"ratio":0.695,"strength":59.7,"cement":"C : 400 to 500 kg"},
      {"ratio":0.7,"strength":58.5,"cement":"C : 400 to 500 kg"}
    ]
  },
  "hconcat": [
    {
      "width": 1514,
      "height": 1074,
      "data": {"name": "wc"},
      "title": {"text": "(a)", "orient": "bottom", "anchor": "middle", "frame": "group", "dx": -57, "offset": 80},
      "mark": {"type": "point", "filled": true, "size": 470, "strokeWidth": 2.5, "opacity": 1},
      "encoding": {
        "x": {"field": "ratio", "type": "quantitative", "scale": {"domain": [0, 0.8], "nice": false},
              "axis": {"title": "Water to cement ratio", "values": [0, 0.1, 0.2, 0.3, 0.4, 0.5, 0.6, 0.7, 0.8], "format": "~g"}},
        "y": {"field": "strength", "type": "quantitative", "scale": {"domain": [20, 100], "nice": false},
              "axis": {"title": "Compressive strength at 28 days (MPa)", "values": [20, 30, 40, 50, 60, 70, 80, 90, 100]}},
        "fill": {"field": "cement", "type": "nominal",
                 "scale": {"domain": ["C : 200 to 300 kg", "C : 300 to 400 kg", "C : 400 to 500 kg"], "range": ["#4472C4", "#FF0000", "#7030A0"]},
                 "legend": {"title": null, "orient": "none", "legendX": 100, "legendY": 670}},
        "stroke": {"field": "cement", "type": "nominal",
                   "scale": {"domain": ["C : 200 to 300 kg", "C : 300 to 400 kg", "C : 400 to 500 kg"], "range": ["#2F528F", "#FF0000", "#7030A0"]},
                   "legend": {"title": null, "orient": "none", "legendX": 100, "legendY": 670}},
        "shape": {"field": "cement", "type": "nominal",
                  "scale": {"domain": ["C : 200 to 300 kg", "C : 300 to 400 kg", "C : 400 to 500 kg"], "range": ["circle", "diamond", "triangle-up"]},
                  "legend": {"title": null, "orient": "none", "legendX": 100, "legendY": 670}}
      }
    },
    {
      "width": 1514,
      "height": 1074,
      "data": {"name": "wb"},
      "title": {"text": "(b)", "orient": "bottom", "anchor": "middle", "frame": "group", "dx": -64, "offset": 80},
      "mark": {"type": "point", "filled": true, "size": 470, "strokeWidth": 2.5, "opacity": 1},
      "encoding": {
        "x": {"field": "ratio", "type": "quantitative", "scale": {"domain": [0, 0.8], "nice": false},
              "axis": {"title": "Water to binder ratio", "values": [0, 0.1, 0.2, 0.3, 0.4, 0.5, 0.6, 0.7, 0.8], "format": "~g"}},
        "y": {"field": "strength", "type": "quantitative", "scale": {"domain": [20, 100], "nice": false},
              "axis": {"title": "Compressive strength at 28 days (MPa)", "values": [20, 30, 40, 50, 60, 70, 80, 90, 100]}},
        "fill": {"field": "cement", "type": "nominal",
                 "scale": {"domain": ["C : 200 to 300 kg", "C : 300 to 400 kg", "C : 400 to 500 kg"], "range": ["#4472C4", "#FF0000", "#7030A0"]},
                 "legend": {"title": null, "orient": "none", "legendX": 1000, "legendY": 52}},
        "stroke": {"field": "cement", "type": "nominal",
                   "scale": {"domain": ["C : 200 to 300 kg", "C : 300 to 400 kg", "C : 400 to 500 kg"], "range": ["#2F528F", "#FF0000", "#7030A0"]},
                   "legend": {"title": null, "orient": "none", "legendX": 1000, "legendY": 52}},
        "shape": {"field": "cement", "type": "nominal",
                  "scale": {"domain": ["C : 200 to 300 kg", "C : 300 to 400 kg", "C : 400 to 500 kg"], "range": ["circle", "diamond", "triangle-up"]},
                  "legend": {"title": null, "orient": "none", "legendX": 1000, "legendY": 52}}
      }
    }
  ],
  "resolve": {
    "scale": {"x": "independent", "y": "independent", "fill": "independent", "stroke": "independent", "shape": "independent"},
    "axis": {"x": "independent", "y": "independent"}
  },
  "config": {
    "view": {"stroke": "black", "strokeWidth": 5},
    "font": "Liberation Serif",
    "axis": {
      "labelFont": "Liberation Serif", "labelFontSize": 41, "labelColor": "black",
      "labelFlush": false, "labelOverlap": false,
      "titleFont": "Liberation Serif", "titleFontSize": 55, "titleFontWeight": "normal", "titleColor": "black",
      "domainColor": "black", "domainWidth": 5,
      "tickColor": "black", "tickWidth": 4, "tickSize": 13,
      "grid": true, "gridColor": "#d9d9d9", "gridWidth": 3
    },
    "axisX": {"labelPadding": 14, "titlePadding": 25},
    "axisY": {"labelPadding": 24, "titlePadding": 30},
    "legend": {
      "labelFont": "Liberation Serif", "labelFontSize": 43, "labelColor": "black", "labelLimit": 0,
      "symbolSize": 470, "symbolStrokeWidth": 2.5, "symbolOpacity": 1,
      "padding": 16, "rowPadding": 28, "labelOffset": 12,
      "fillColor": "white", "strokeColor": null
    },
    "title": {"font": "Liberation Serif", "fontSize": 72, "fontWeight": "bold", "color": "black"}
  }
}
